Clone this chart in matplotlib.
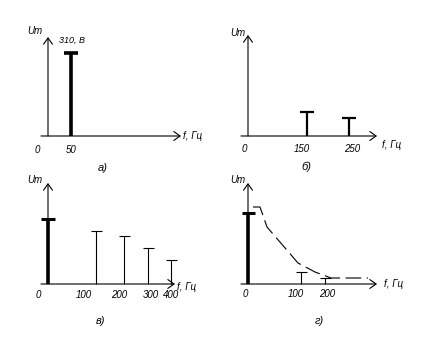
import numpy as np
import matplotlib
matplotlib.use("Agg")
import matplotlib.pyplot as plt

W, H = 434, 351

# panel a: single harmonic 50 Hz
a_labels = ["0", "50"]
a_amps = [83]
a_stem_x = [23]

# panel b: 150 and 250 Hz
b_labels = ["0", "150", "250"]
b_amps = [24, 18]
b_stem_x = [59, 101]

# panel c: DC + harmonics
c_labels = ["0", "100", "200", "300", "400"]
c_dc = 65
c_amps = [53, 48, 36, 24]
c_stem_x = [48, 76, 100, 123]

# panel d: DC + two small harmonics + envelope
d_labels = ["0", "100", "200"]
d_dc = 71
d_amps = [12, 6]
d_stem_x = [53, 77]
env_x = [5, 12, 19, 50, 67, 83, 120]
env_y = [77, 77, 57, 21, 12, 6, 6]

fig = plt.figure(figsize=(W / 100, H / 100), dpi=100)
plt.rcParams["font.family"] = ["Liberation Sans", "DejaVu Sans"]
txt = dict(fontsize=7, style="italic", ha="center", va="center")
cap = dict(fontsize=8, style="italic", ha="center", va="center")


def panel(ox, oy, xlen, ylen):
    # axes where one data unit is one pixel, origin at (ox, oy)
    ax = fig.add_axes([(ox - 40) / W, (H - oy - 60) / H, 220 / W, 180 / H])
    ax.set_xlim(-40, 180)
    ax.set_ylim(-60, 120)
    ax.axis("off")
    arr = dict(arrowstyle="->,head_length=0.45,head_width=0.32", lw=0.8,
               color="black", shrinkA=0, shrinkB=0)
    ax.annotate("", xy=(xlen, 0), xytext=(-7, 0), arrowprops=arr)
    ax.annotate("", xy=(0, ylen), xytext=(0, 0), arrowprops=arr)
    return ax


def stems(ax, xs, amps, lw, half):
    ax.vlines(xs, 0, amps, color="black", lw=lw)
    ax.hlines(amps, np.array(xs) - half, np.array(xs) + half, color="black", lw=lw)


# a)
ax = panel(48, 136, 133, 99)
ax.vlines(a_stem_x, 0, a_amps, color="black", lw=2.6)
ax.hlines(a_amps, np.array(a_stem_x) - 7, np.array(a_stem_x) + 7, color="black", lw=2.6)
ax.text(24, 96, "310, В", fontsize=6.5, style="italic", ha="center", va="center")
ax.text(-13, 105, "Um", **txt)
for lab, x in zip(a_labels, [-11, 23]):
    ax.text(x, -14, lab, **txt)
ax.text(135, 0, "f, Гц", fontsize=7, style="italic", ha="left", va="center")
ax.text(55, -32, "а)", **cap)

# б)
ax = panel(248, 136, 129, 101)
stems(ax, b_stem_x, b_amps, 1.6, 7)
ax.text(-10, 103, "Um", **txt)
for lab, x in zip(b_labels, [-4, 54, 104]):
    ax.text(x, -13, lab, **txt)
ax.text(134, -9, "f, Гц", fontsize=7, style="italic", ha="left", va="center")
ax.text(58, -31, "б)", **cap)

# в)
ax = panel(48, 284, 127, 101)
ax.vlines([0], 0, [c_dc], color="black", lw=2.6)
ax.hlines([c_dc], -7, 7, color="black", lw=2.2)
stems(ax, c_stem_x, c_amps, 0.8, 5.5)
ax.text(-13, 104, "Um", **txt)
for lab, x in zip(c_labels, [-10, 36, 71, 103, 123]):
    ax.text(x, -11, lab, **txt)
ax.text(129, -3, "f, Гц", fontsize=7, style="italic", ha="left", va="center")
ax.text(53, -37, "в)", **cap)

# г)
ax = panel(248, 284, 129, 101)
ax.vlines([0], 0, [d_dc], color="black", lw=2.6)
ax.hlines([d_dc], -6, 7, color="black", lw=2.2)
stems(ax, d_stem_x, d_amps, 0.8, 5.5)
ax.plot(env_x, env_y, color="black", lw=0.8, dashes=(14, 5))
ax.text(-10, 104, "Um", **txt)
for lab, x in zip(d_labels, [-3, 48, 79]):
    ax.text(x, -10, lab, **txt)
ax.text(136, 0, "f, Гц", fontsize=7, style="italic", ha="left", va="center")
ax.text(71, -37, "г)", **cap)

fig.savefig("out.png", dpi=100)
